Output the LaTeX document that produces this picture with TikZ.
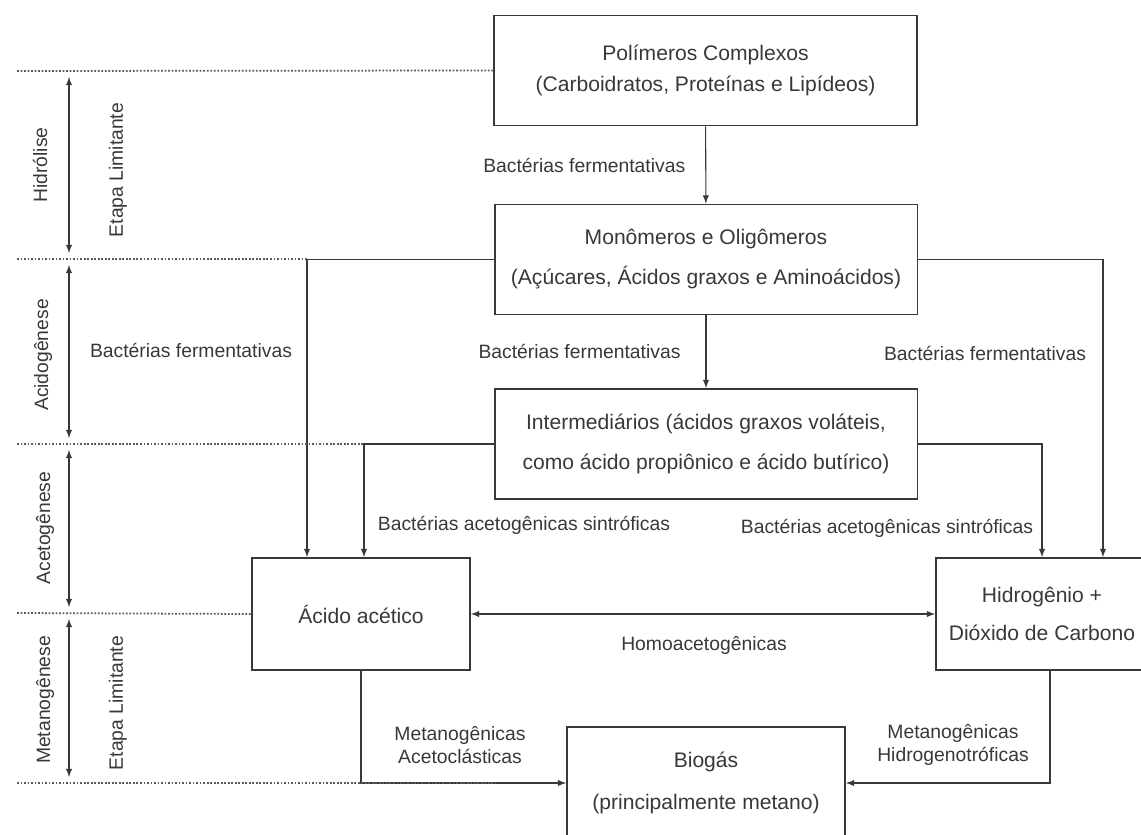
\documentclass[tikz,border=0pt]{standalone}
\usepackage{fontspec}
\setmainfont{Liberation Sans}
\usepackage{tikz}
\usetikzlibrary{arrows}
\definecolor{ink}{HTML}{383838}
\tikzstyle{stage} = [rectangle, minimum width=8.46cm, minimum height=2.2cm, inner sep=0pt, text centered, align=center, draw=ink, line width=1.1pt, text=ink, font=\fontsize{12}{22.7}\selectfont]
\tikzstyle{product} = [stage, minimum width=4.36cm, minimum height=2.24cm]
\tikzstyle{micro} = [inner sep=0pt, align=center, text=ink, font=\fontsize{11}{13}\selectfont]
\tikzstyle{phase} = [micro, rotate=90]
\tikzstyle{arrow} = [draw=ink, line width=0.6pt, ->, >=latex]
\tikzstyle{twoway} = [draw=ink, line width=0.6pt, <->, >=latex]
\tikzstyle{border} = [draw=black!65, line width=1pt, densely dotted]

\begin{document}
\begin{tikzpicture}[x=0.02cm, y=-0.02cm]
    \useasboundingbox (0,0) rectangle (1141,834);
    \node (poly) [stage, font=\fontsize{12}{18}\selectfont] at (705.5,70.5) {Polímeros Complexos\\(Carboidratos, Proteínas e Lipídeos)};
    \node (mono) [stage] at (706,259.5) {Monômeros e Oligômeros\\(Açúcares, Ácidos graxos e Aminoácidos)};
    \draw [arrow] (poly) -- node (fer1) [micro, left=0.4cm] {Bactérias fermentativas} (mono);
    \node (inter) [stage] at (706,444) {Intermediários (ácidos graxos voláteis,\\como ácido propiônico e ácido butírico)};
    \draw [arrow] (mono) -- node (fer2) [micro, left=0.5cm] {Bactérias fermentativas} (inter);
    \node (acetic) [product] at (361,614) {Ácido acético};
    \node (hydro) [product, minimum width=4.24cm, font=\fontsize{12}{21.5}\selectfont] at (1042,614) {Hidrogênio +\\Dióxido de Carbono};
    \node (biogas) [product, minimum width=5.56cm, font=\fontsize{12}{23.8}\selectfont] at (706,783) {Biogás\\(principalmente metano)};
    \draw [arrow] (mono.west) -| ([xshift=-1.08cm]acetic.north);
    \draw [arrow] (inter.west) -| ([xshift=0.06cm]acetic.north);
    \draw [arrow] (mono.east) -| ([xshift=1.22cm]hydro.north);
    \draw [arrow] (inter.east) -| (hydro.north);
    \draw [twoway] (acetic) -- (hydro);
    \draw [arrow] (acetic.south) |- (biogas.west);
    \draw [arrow] ([xshift=0.16cm]hydro.south) |- (biogas.east);
    \node (fer3) [micro] at (191,350) {Bactérias fermentativas};
    \node (fer4) [micro] at (985,353) {Bactérias fermentativas};
    \node (syn1) [micro] at (524,525) {Bactérias acetogênicas sintróficas};
    \node (syn2) [micro] at (887,528) {Bactérias acetogênicas sintróficas};
    \node (homo) [micro] at (704,645) {Homoacetogênicas};
    \node (acl) [micro] at (460,745) {Metanogênicas\\Acetoclásticas};
    \node (hgt) [micro] at (953,745) {Metanogênicas\\Hidrogenotróficas};
    % fases
    \coordinate (b0) at (17,71);
    \coordinate (b1) at (17,259);
    \coordinate (b2) at (17,444);
    \coordinate (b3) at (17,613);
    \coordinate (b4) at (17,783);
    \coordinate (e1) at (307,259);
    \coordinate (e2) at (364,444);
    \coordinate (e4) at (495,783);
    \draw [border] (b0) -- (poly.west);
    \draw [border] (b1) -- (e1);
    \draw [border] (b2) -- (e2);
    \draw [border] (b3) -- (acetic.west);
    \draw [border] (b4) -- (e4);
    \coordinate (p0) at (69,71);
    \coordinate (p1) at (69,259);
    \coordinate (p2) at (69,444);
    \coordinate (p3) at (69,613);
    \coordinate (p4) at (69,783);
    \draw [twoway] ([yshift=-0.12cm]p0) -- ([yshift=0.12cm]p1);
    \draw [twoway] ([yshift=-0.12cm]p1) -- ([yshift=0.12cm]p2);
    \draw [twoway] ([yshift=-0.12cm]p2) -- ([yshift=0.12cm]p3);
    \draw [twoway] ([yshift=-0.12cm]p3) -- ([yshift=0.12cm]p4);
    \node (hid) [phase] at (40,165) {Hidrólise};
    \node (lim1) [phase] at (118,170) {Etapa Limitante};
    \node (acid) [phase] at (43,355) {Acidogênese};
    \node (acet) [phase] at (45,528) {Acetogênese};
    \node (meta) [phase] at (45,700) {Metanogênese};
    \node (lim2) [phase] at (118,703) {Etapa Limitante};
\end{tikzpicture}
\end{document}
